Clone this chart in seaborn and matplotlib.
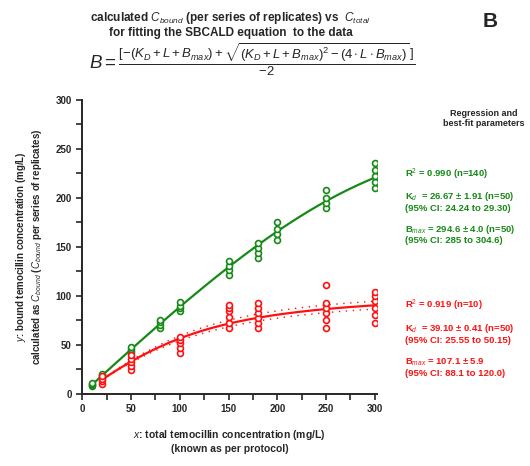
import numpy as np
import pandas as pd
import matplotlib
matplotlib.use("Agg")
import matplotlib.pyplot as plt
from matplotlib.ticker import MultipleLocator
import seaborn as sns

# --- DATA ---
# total temocillin concentration (mg/L) and calculated bound concentration per replicate
green_conc = [10, 20, 50, 80, 100, 150, 180, 200, 250, 300]
green_bound = [
    [8, 9, 10, 11],
    [16, 18, 19, 20],
    [42, 44, 46, 48],
    [67, 70, 73, 75],
    [84, 87, 90, 94],
    [121, 126, 130, 135],
    [139, 144, 149, 154],
    [157, 163, 168, 175],
    [190, 195, 200, 208],
    [210, 216, 222, 228, 235],
]
red_conc = [20, 50, 100, 150, 180, 250, 300]
red_bound = [
    [10, 13, 15, 18],
    [24, 28, 32, 35, 40],
    [42, 47, 52, 55, 58],
    [67, 72, 78, 84, 88, 91],
    [67, 72, 77, 82, 88, 93],
    [67, 75, 82, 88, 93, 111],
    [72, 80, 88, 95, 100, 104],
]

# best-fit parameters printed on the figure (Kd, Bmax)
green_fit = (26.67, 294.6)
red_fit = (39.10, 107.1)
# dotted band around the red fit (Kd, Bmax) for upper / lower curve
red_band = [(36.0, 111.0), (42.0, 103.5)]

GREEN = "#168a16"
RED = "#ff1010"


def sbcald(L, kd, bmax):
    s = kd + L + bmax
    return (-s + np.sqrt(s ** 2 - 4 * L * bmax)) / -2


def long_df(conc, bound):
    rows = [(c, b) for c, vals in zip(conc, bound) for b in vals]
    return pd.DataFrame(rows, columns=["total", "bound"])


df_green = long_df(green_conc, green_bound)
df_red = long_df(red_conc, red_bound)

sns.set_style("ticks")
plt.rcParams["font.family"] = ["Liberation Sans", "DejaVu Sans"]
plt.rcParams["mathtext.fontset"] = "custom"
plt.rcParams["mathtext.rm"] = "Liberation Sans"
plt.rcParams["mathtext.it"] = "Liberation Sans:italic"
plt.rcParams["mathtext.bf"] = "Liberation Sans:bold"

fig = plt.figure(figsize=(5.3, 4.66), dpi=100)
ax = fig.add_axes([0.155, 0.155, 0.556, 0.631])

# fitted curves
xg = np.linspace(min(green_conc), max(green_conc), 200)
xr = np.linspace(min(red_conc), max(red_conc), 200)
sns.lineplot(x=xg, y=sbcald(xg, *green_fit), color=GREEN, lw=1.6, ax=ax)
sns.lineplot(x=xr, y=sbcald(xr, *red_fit), color=RED, lw=1.6, ax=ax)
for kd, bmax in red_band:
    sns.lineplot(x=xr, y=sbcald(xr, kd, bmax), color=RED, lw=1.0,
                 linestyle=(0, (1, 4)), ax=ax)

# replicates
sns.scatterplot(data=df_green, x="total", y="bound", marker="o", s=18,
                facecolor="white", edgecolor=GREEN, linewidth=1.2, ax=ax, zorder=3)
sns.scatterplot(data=df_red, x="total", y="bound", marker="o", s=18,
                facecolor="white", edgecolor=RED, linewidth=1.2, ax=ax, zorder=3)

ax.set_xlim(0, 302)
ax.set_ylim(0, 300)
ax.xaxis.set_major_locator(MultipleLocator(50))
ax.xaxis.set_minor_locator(MultipleLocator(25))
ax.yaxis.set_major_locator(MultipleLocator(50))
ax.yaxis.set_minor_locator(MultipleLocator(25))
ax.tick_params(which="both", direction="out", width=1.2, length=4, labelsize=7)
for lab in ax.get_xticklabels() + ax.get_yticklabels():
    lab.set_fontweight("bold")
sns.despine(ax=ax)
for sp in ("left", "bottom"):
    ax.spines[sp].set_linewidth(1.4)

ax.set_xlabel(r"$x$: total temocillin concentration (mg/L)" "\n(known as per protocol)",
              fontsize=7.5, fontweight="bold", labelpad=10)
ax.set_ylabel(r"$y$: bound temocillin concentration (mg/L)" "\n"
              r"calculated as $C_{bound}$ ($C_{bound}$ per series of replicates)",
              fontsize=7, fontweight="bold", labelpad=8)

# titles
fig.text(0.435, 0.962, r"calculated $C_{bound}$ (per series of replicates) vs  $C_{total}$",
         ha="center", va="center", fontsize=8.5, fontweight="bold")
fig.text(0.435, 0.930, "for fitting the SBCALD equation  to the data",
         ha="center", va="center", fontsize=8.5, fontweight="bold")
fig.text(0.475, 0.873,
         r"$B = \frac{[-(K_D + L + B_{max}) + \sqrt{(K_D + L + B_{max})^2 - (4\cdot L\cdot B_{max})}\,]}{-2}$",
         ha="center", va="center", fontsize=13.5)
fig.text(0.925, 0.953, "B", ha="center", va="center", fontsize=15, fontweight="bold")

# regression annotations
fig.text(0.912, 0.745, "Regression and\nbest-fit parameters", ha="center", va="center",
         fontsize=6.5, fontweight="bold", linespacing=1.1)
green_lines = [
    (0.625, r"R$^2$ = 0.990 (n=140)"),
    (0.568, r"K$_d$  = 26.67 ± 1.91 (n=50)" "\n(95% CI: 24.24 to 29.30)"),
    (0.498, r"B$_{max}$ = 294.6 ± 4.0 (n=50)" "\n(95% CI: 285 to 304.6)"),
]
red_lines = [
    (0.345, r"R$^2$ = 0.919 (n=10)"),
    (0.285, r"K$_d$  = 39.10 ± 0.41 (n=50)" "\n(95% CI: 25.55 to 50.15)"),
    (0.212, r"B$_{max}$ = 107.1 ± 5.9" "\n(95% CI: 88.1 to 120.0)"),
]
for y, t in green_lines:
    fig.text(0.765, y, t, ha="left", va="center", fontsize=6.8, fontweight="bold",
             color=GREEN, linespacing=1.1)
for y, t in red_lines:
    fig.text(0.765, y, t, ha="left", va="center", fontsize=6.8, fontweight="bold",
             color=RED, linespacing=1.1)

fig.savefig("out.png", dpi=100)
